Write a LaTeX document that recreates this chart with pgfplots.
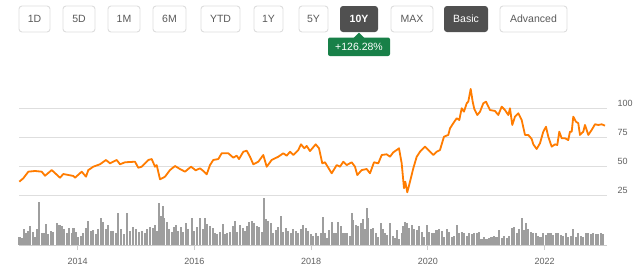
\documentclass[border=0pt]{standalone}
\usepackage{pgfplots}
\usepackage{pgfplotstable}
\pgfplotsset{compat=1.18}
\usepackage{fontspec}
\setmainfont{Liberation Sans}
\definecolor{orng}{RGB}{255,124,0}
\definecolor{gridc}{RGB}{222,222,222}
\definecolor{labc}{RGB}{96,96,96}
\definecolor{volc}{RGB}{158,158,158}
\definecolor{axc}{RGB}{204,204,204}
\definecolor{btnb}{RGB}{221,221,221}
\definecolor{btntxt}{RGB}{90,90,90}
\definecolor{btndark}{RGB}{80,80,80}
\definecolor{grn}{RGB}{24,128,72}

% price: px = pixel column of the reference, v = price
\pgfplotstableread{
px v
19.3 36.7
23.3 39.6
28.3 45.3
35 45.9
41.7 45.3
45 41.8
51.7 46.7
60 40.1
63.3 43.3
73.3 41.6
75 40.1
81.7 45.3
86 41
88.3 46.7
93.3 49.6
100 51.7
106 55.4
110 52.5
116.7 55.4
120 51.7
125 53.4
135 53.9
138.3 48.7
141.7 49.6
148.3 55.4
151.7 56.2
155 49.6
156.7 51
160 38.7
163.3 40.1
165 41
170 46.7
175 50.2
180 47.6
185 45.3
191 49.6
195.7 46.5
200 48.2
203.3 45.9
206.7 43
210 51
213.3 55.4
218.3 56.2
221.7 61.2
228.3 61.2
233.3 57.4
236.7 59.1
239 56.2
243.3 62.5
246.7 63.4
250 58.2
253.3 51.7
258.3 53.9
263.3 59.7
266.7 49.6
271.7 55.4
278.3 58.2
283.3 61.2
286.7 59.1
290 62.5
293.3 59.7
298.3 64
301 68.9
304.3 65.5
306.7 67.5
310 63.1
315.7 68.9
319 65.5
322.3 52.5
325 53.4
331.7 43.9
336.7 51
340 49.6
343.3 53.9
346.7 51
351.7 53.4
355 49.6
357.3 42.4
361.7 46.7
366.7 47.6
370 43.9
374 53.4
378.3 52.5
381.7 59.7
386.7 60.3
390 58.2
393.3 62
396.7 64
399 65.5
401.7 52.5
404 31
405.3 36.7
407.3 27.5
410 36.7
413.3 48.2
416.7 58.2
420 62.5
425 66.9
428.3 64
433.3 59.7
436.7 62.5
440 64
444 75.5
448.3 77
450 82.7
453.3 87.1
456.7 91.4
459.3 89.9
461.7 100
464 97.1
466.7 104.3
468.3 105.7
470.7 116.7
472.7 105.7
474.3 99.4
477.3 94.2
480 97
483.3 104.3
486 105.7
490 98.5
495 97.7
498.3 94.2
501.7 101.4
505 98.5
508.3 94.2
510 100
512.3 85.6
515 92.8
518.3 95.7
521.7 89.9
525 77
528.3 77
531.7 73.5
533.3 68.9
536.7 64.9
540 69.8
543.3 79.8
546 84.1
548.3 75.5
551.7 66.9
555 68.9
557.3 68.3
559.3 79.8
561.7 74.1
565 74.1
568.3 72.6
570 79.8
571.7 79.8
573.3 92.8
576 88.4
578.3 87.1
580 77
583.3 79.8
585 85.6
588.3 77
591.7 81.3
595 86.2
598.3 85.6
601.7 86.2
605 85
}\pricedata

% volume, first half: x = 3 * (pixel - 10), h = bar height in pixels
\pgfplotstableread{
x h
28 8
35 7
42 16
48 12
55 14
60 19
68 13
75 8
80 16
87 43
95 12
102 12
108 21
115 11
122 14
130 13
140 22
148 20
155 19
162 16
170 12
177 17
185 12
190 17
197 13
205 8
212 9
220 12
228 17
235 24
242 14
250 15
258 11
265 16
272 27
280 23
287 16
295 20
302 14
310 14
318 12
325 32
333 16
342 11
352 32
360 14
370 18
378 16
388 13
395 14
405 12
412 16
420 18
428 17
435 20
442 14
448 42
452 29
458 39
463 27
470 23
478 16
485 13
492 18
498 20
505 14
512 18
520 13
528 22
535 16
545 27
552 14
560 18
570 27
578 16
585 27
592 21
600 19
608 17
615 12
622 11
630 13
638 21
645 11
652 12
660 13
668 19
675 24
682 13
690 20
698 17
705 14
712 19
718 23
725 24
732 22
740 19
748 18
755 13
763 47
768 26
775 24
782 22
790 12
798 15
805 18
812 29
820 13
828 17
835 14
842 12
850 16
858 14
865 12
872 16
880 20
888 17
895 14
902 11
910 9
918 12
925 9
}\volA

% volume, second half: x = 3 * (pixel - 320)
\pgfplotstableread{
x h
2 12
8 28
15 12
22 7
28 15
35 23
42 12
48 12
55 23
62 19
70 12
75 12
82 12
90 9
95 32
100 25
108 20
115 19
122 22
128 26
134 16
140 37
145 27
152 16
160 17
168 12
175 8
182 22
188 16
195 12
202 10
210 22
218 9
225 7
232 15
238 6
245 12
250 19
255 23
262 22
268 17
275 20
282 16
290 15
298 19
305 13
312 8
320 20
328 13
335 12
342 12
350 15
358 16
365 14
372 8
380 16
388 13
395 8
402 9
410 20
418 12
425 13
432 12
440 9
448 12
455 11
462 12
470 12
478 13
485 6
492 8
500 6
508 7
515 8
522 9
530 8
538 15
545 7
552 9
560 7
568 9
575 17
582 18
590 12
598 16
605 27
612 15
618 22
625 16
632 13
640 12
648 12
655 9
662 8
670 12
678 10
685 12
692 12
700 10
708 12
715 12
722 10
730 9
738 12
745 8
752 9
760 16
768 8
775 12
782 9
790 8
798 12
805 12
812 11
820 12
828 11
835 11
842 12
850 11
}\volB

\begin{document}
\begin{tikzpicture}[x=1pt,y=1pt]
\useasboundingbox[fill=white] (0pt,0pt) rectangle (640pt,-274pt);

% range buttons
\foreach \a/\b/\t in {19/50/1D,63/95/5D,108/140/1M,153/186/6M,201/240/YTD,254/283/1Y,299/328/5Y,391/433/MAX,500/567/Advanced}{
  \draw[draw=btnb, fill=white, rounded corners=3pt, line width=0.9pt] (\a,-6) rectangle (\b,-32);
  \node[font=\fontsize{10.5}{12}\selectfont, text=btntxt, inner sep=0pt] at ({(\a+\b)/2},-19) {\t};
}
\fill[btndark, rounded corners=3pt] (340,-6) rectangle (378,-32);
\node[font=\fontsize{10.5}{12}\selectfont\bfseries, text=white, inner sep=0pt] at (359,-19) {10Y};
\fill[btndark, rounded corners=3pt] (444,-6) rectangle (488,-32);
\node[font=\fontsize{10.5}{12}\selectfont, text=white, inner sep=0pt] at (466,-19) {Basic};

% change badge
\fill[grn, rounded corners=2pt] (328,-37.5) rectangle (390,-56);
\fill[grn] (353.5,-38) -- (359,-32.5) -- (364.5,-38) -- cycle;
\node[font=\fontsize{10.5}{12}\selectfont, text=white, inner sep=0pt] at (359,-47) {+126.28\%};

% price panel
\begin{axis}[
  at={(19pt,-197pt)}, anchor=south west,
  scale only axis, width=588pt, height=112pt,
  xmin=2012.998, xmax=2023.067,
  ymin=23.45, ymax=120.1,
  axis line style={draw=none},
  xtick=\empty,
  ytick={25,50,75,100},
  ymajorgrids,
  grid style={color=gridc, line width=0.9pt},
  yticklabel pos=right,
  major tick length=0pt,
  y tick label style={anchor=west, xshift=7pt, yshift=4.5pt, font=\fontsize{9}{10}\selectfont, text=labc},
  /pgf/number format/assume math mode=true,
  clip=false,
]
\addplot[color=orng, line width=1.8pt, line join=round, mark=none]
  table[x expr={2014+(\thisrow{px}-77.5)/58.4}, y=v] {\pricedata};
\end{axis}

% volume panel
\begin{axis}[
  at={(19pt,-245pt)}, anchor=south west,
  scale only axis, width=588pt, height=48pt,
  xmin=2012.998, xmax=2023.067,
  ymin=0, ymax=48,
  axis x line*=bottom, axis y line=none,
  axis line style={color=axc, line width=0.9pt},
  xtick={2014,2016,2018,2020,2022},
  xticklabels={2014,2016,2018,2020,2022},
  ytick=\empty,
  tick align=outside,
  major tick length=5pt,
  tick style={color=axc, line width=0.9pt},
  x tick label style={font=\fontsize{9}{10}\selectfont, text=labc, yshift=-4.5pt},
  /pgf/number format/assume math mode=true,
  clip=false,
]
\addplot[ycomb, color=volc, line width=2.3pt, mark=none]
  table[x expr={2014+(\thisrow{x}/3+10-77.5)/58.4}, y=h] {\volA};
\addplot[ycomb, color=volc, line width=2.3pt, mark=none]
  table[x expr={2014+(\thisrow{x}/3+320-77.5)/58.4}, y=h] {\volB};
\end{axis}
\end{tikzpicture}
\end{document}
